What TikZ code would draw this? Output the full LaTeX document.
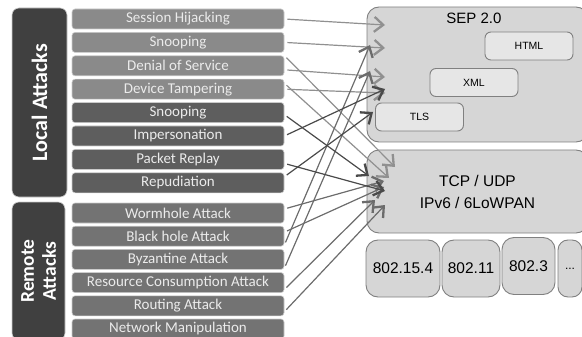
\documentclass[tikz,border=0pt]{standalone}
\usepackage{fontspec}
\setmainfont{Carlito}
\newfontfamily\arialfont{Liberation Sans}
\usetikzlibrary{arrows.meta}
\definecolor{lightatk}{HTML}{8A8A8A}
\definecolor{darkatk}{HTML}{5E5E5E}
\definecolor{remoteatk}{HTML}{737373}
\definecolor{groupfill}{HTML}{404040}
\definecolor{layerfill}{HTML}{D6D6D6}
\definecolor{layerline}{HTML}{808080}
\definecolor{lighthop}{HTML}{909090}
\definecolor{darkhop}{HTML}{4A4A4A}
\definecolor{remotehop}{HTML}{6C6C6C}
\tikzset{
  attack/.style={draw=white!80!black, line width=0.6pt, rounded corners=3pt,
    minimum width=212pt, minimum height=20pt, inner sep=0pt,
    text=white!92!black, font=\fontsize{15}{15}\selectfont},
  group/.style={draw=white!80!black, line width=0.6pt, fill=groupfill,
    rounded corners=7pt, inner sep=0pt, text=white, align=center},
  layer/.style={draw=layerline, fill=layerfill, line width=0.9pt,
    rounded corners=12pt, inner sep=0pt},
  sublayer/.style={draw=layerline, fill=layerfill!60!white, line width=0.9pt,
    rounded corners=6pt, minimum width=88pt, minimum height=28pt,
    font=\arialfont\fontsize{10.5}{12}\selectfont},
  hop/.style={-{Straight Barb[length=9pt,width=15pt,line width=2.3pt]},
    line width=1.2pt, shorten <=3pt},
}
\begin{document}
\begin{tikzpicture}[x=1pt,y=-1pt]
  \useasboundingbox (0,0) rectangle (582,337);
  % attack groups
  \node[group, rotate=90, minimum width=189pt, minimum height=55pt,
    font=\bfseries\fontsize{22}{22}\selectfont] (loc) at (39.5,102.5) {Local Attacks};
  \node[group, rotate=90, minimum width=138pt, minimum height=53pt,
    font=\bfseries\fontsize{19.5}{22}\selectfont] (rem) at (38.5,271) {Remote\\Attacks};
  % local attacks
  \node[attack, fill=lightatk] (l0) at (178,19) {Session Hijacking};
  \node[attack, fill=lightatk] (l1) at (178,42.4) {Snooping};
  \node[attack, fill=lightatk] (l2) at (178,65.8) {Denial of Service};
  \node[attack, fill=lightatk] (l3) at (178,89.2) {Device Tampering};
  \node[attack, fill=darkatk] (l4) at (178,112.6) {Snooping};
  \node[attack, fill=darkatk] (l5) at (178,136) {Impersonation};
  \node[attack, fill=darkatk] (l6) at (178,159.4) {Packet Replay};
  \node[attack, fill=darkatk] (l7) at (178,182.8) {Repudiation};
  % remote attacks
  \node[attack, fill=remoteatk] (r0) at (178,213) {Wormhole Attack};
  \node[attack, fill=remoteatk] (r1) at (178,236.2) {Black hole Attack};
  \node[attack, fill=remoteatk] (r2) at (178,259.4) {Byzantine Attack};
  \node[attack, fill=remoteatk] (r3) at (178,282.6) {Resource Consumption Attack};
  \node[attack, fill=remoteatk] (r4) at (178,305.8) {Routing Attack};
  \node[attack, fill=remoteatk] (r5) at (178,329) {Network Manipulation};
  % protocol stack
  \node[layer, minimum width=221pt, minimum height=135pt] (sep) at (477.5,74.5) {};
  \node[font=\arialfont\fontsize{15}{15}\selectfont] (septitle) at (474,18) {SEP 2.0};
  \node[sublayer] (html) at (529,46) {HTML};
  \node[sublayer] (xml) at (474,82.5) {XML};
  \node[sublayer] (tls) at (419.5,117) {TLS};
  \node[layer, minimum width=221pt, minimum height=83pt, align=center,
    font=\arialfont\fontsize{15.5}{22}\selectfont] (tcp) at (477.5,191.5) {TCP / UDP\\IPv6 / 6LoWPAN};
  \node[layer, minimum width=74pt, minimum height=57pt,
    font=\arialfont\fontsize{15.5}{15.5}\selectfont] (b0) at (403,268.5) {802.15.4};
  \node[layer, minimum width=58pt, minimum height=57pt,
    font=\arialfont\fontsize{15.5}{15.5}\selectfont] (b1) at (471,268.5) {802.11};
  \node[layer, minimum width=53pt, minimum height=57pt,
    font=\arialfont\fontsize{15.5}{15.5}\selectfont] (b2) at (528.5,266) {802.3};
  \node[layer, minimum width=24pt, minimum height=57pt, rounded corners=10pt,
    font=\arialfont\fontsize{12}{12}\selectfont] (b3) at (570,268.5) {...};
  % arrow tips
  \coordinate (s0) at (385,25);
  \coordinate (s1) at (385,48);
  \coordinate (s2) at (370,45);
  \coordinate (s3) at (370,71);
  \coordinate (s4) at (385,77);
  \coordinate (s5) at (385,89);
  \coordinate (s6) at (385,93);
  \coordinate (s7) at (373,112);
  \coordinate (p0) at (395,167);
  \coordinate (p1) at (369,176);
  \coordinate (p2) at (389,178);
  \coordinate (p3) at (384,181);
  \coordinate (p4) at (384,187);
  \coordinate (p5) at (385,191);
  \coordinate (p6) at (375,200);
  \coordinate (p7) at (385,205);
  \begin{scope}[hop, lighthop]
    \draw (l0.east) to (s0);
    \draw (l1.east) to (s1);
    \draw (l2.north east) to (p0);
    \draw ([yshift=-4pt]l2.east) to (s4);
    \draw ([yshift=6pt]l3.east) to (p2);
    \draw (l3.east) to (s6);
  \end{scope}
  \begin{scope}[hop, remotehop]
    \draw ([yshift=4pt]r0.east) to (p3);
    \draw ([yshift=4pt]r1.east) to (p4);
    \draw ([yshift=-9pt]r1.east) to (s2);
    \draw ([yshift=-9pt]r2.east) to (s3);
    \draw ([yshift=-7pt]r3.east) to (p6);
    \draw ([yshift=-6pt]r4.east) to (p7);
  \end{scope}
  \begin{scope}[hop, darkhop]
    \draw ([yshift=-2pt]l4.east) to (p1);
    \draw (l5.east) to (s5);
    \draw ([yshift=-4pt]l6.east) to (p5);
    \draw ([yshift=6pt]l7.east) to (s7);
  \end{scope}
\end{tikzpicture}
\end{document}
